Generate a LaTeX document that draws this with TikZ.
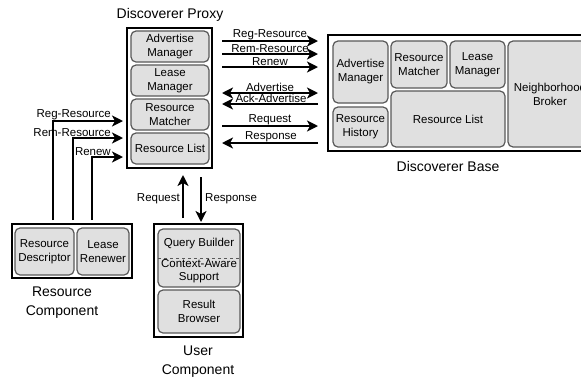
\documentclass[tikz,border=0pt]{standalone}
\usepackage{fontspec}
\setmainfont{Liberation Sans}
\usetikzlibrary{arrows.meta}
\begin{document}
\begin{tikzpicture}[x=1pt,y=-1pt,
  outer/.style={draw=black,line width=1.8pt,fill=white,inner sep=0pt,outer sep=0pt},
  ibox/.style={draw=black!65,line width=1.2pt,fill=black!12,rounded corners=5pt,
    align=center,font=\fontsize{11.5}{14}\selectfont,inner sep=1pt,outer sep=0pt},
  lbl/.style={font=\fontsize{11.5}{14}\selectfont,inner sep=1pt,align=center},
  ttl/.style={font=\fontsize{14}{19}\selectfont,align=center,inner sep=0pt},
  arr/.style={line width=1.8pt,-{Stealth[length=11pt,width=11pt,inset=3pt]}},
  darr/.style={line width=1.8pt,{Stealth[length=11pt,width=11pt,inset=3pt]}-{Stealth[length=11pt,width=11pt,inset=3pt]}}]
\clip (0,0) rectangle (581,381);

% Discoverer Proxy
\node[ttl] (proxyT) at (170,15) {Discoverer Proxy};
\node[outer,minimum width=85,minimum height=140] (proxy) at (169.5,98) {};
\node[ibox,minimum width=78,minimum height=31] (pAdv) at (170,46.5) {Advertise\\Manager};
\node[ibox,minimum width=78,minimum height=31] (pLease) at (170,80.5) {Lease\\Manager};
\node[ibox,minimum width=78,minimum height=31] (pMatch) at (170,114.5) {Resource\\Matcher};
\node[ibox,minimum width=78,minimum height=31] (pList) at (170,148.5) {Resource List};

% Discoverer Base
\node[outer,minimum width=272,minimum height=116] (base) at (464,93) {};
\node[ttl] (baseT) at (448,166) {Discoverer Base};
\node[ibox,minimum width=55,minimum height=62] (bAdv) at (360.5,72) {Advertise\\Manager};
\node[ibox,minimum width=55,minimum height=40] (bHist) at (360.5,127) {Resource\\History};
\node[ibox,minimum width=56,minimum height=47] (bMatch) at (419,64.5) {Resource\\Matcher};
\node[ibox,minimum width=55,minimum height=47] (bLease) at (477.5,64.5) {Lease\\Manager};
\node[ibox,minimum width=114,minimum height=56] (bList) at (448,119) {Resource List};
\node[ibox,minimum width=84,minimum height=106] (bNeigh) at (550,94) {Neighborhood\\Broker};

% Resource Component
\node[outer,minimum width=120,minimum height=54] (rc) at (72,251) {};
\node[ibox,minimum width=59,minimum height=47] (rDesc) at (44.5,251.5) {Resource\\Descriptor};
\node[ibox,minimum width=52,minimum height=47] (rRen) at (103,251.5) {Lease\\Renewer};
\node[ttl] (rcT) at (62,302.5) {Resource\\Component};

% User Component
\node[outer,minimum width=89,minimum height=113] (uc) at (198.5,280.5) {};
\node[ibox,minimum width=82,minimum height=58] (uQuery) at (199,258) {};
\draw[dashed,black!65,line width=1pt] (uQuery.west |- 0,258) -- (uQuery.east |- 0,258);
\node[lbl] (uQB) at (199,243.5) {Query Builder};
\node[lbl,font=\fontsize{11.5}{13}\selectfont] (uCA) at (199,271.5) {Context-Aware\\Support};
\node[ibox,minimum width=82,minimum height=43] (uRes) at (199,311.5) {Result\\Browser};
\node[ttl] (ucT) at (198,362) {User\\Component};

% Proxy -> Base messages
\foreach \yy/\txt in {41/Reg-Resource,54/Rem-Resource,67/Renew,126/Request}{
  \draw[arr,shorten <=10pt,shorten >=10pt] (proxy.east |- 0,\yy) -- (base.west |- 0,\yy);
  \node[lbl,anchor=south] at (270,\yy) {\txt};
}
% Advertise goes both ways
\draw[darr,shorten <=10pt,shorten >=10pt] (proxy.east |- 0,93) -- (base.west |- 0,93);
\node[lbl,anchor=south] (advL) at (270,93) {Advertise};
% Base -> Proxy messages
\foreach \yy/\txt in {104/Ack-Advertise,143/Response}{
  \draw[arr,shorten <=10pt,shorten >=10pt] (base.west |- 0,\yy) -- (proxy.east |- 0,\yy);
  \node[lbl,anchor=south] at (271,\yy) {\txt};
}

% Resource Component -> Proxy
\foreach \xx/\yy/\txt in {53/121/Reg-Resource,73/138/Rem-Resource,92/157/Renew}{
  \draw[arr,shorten <=4pt,shorten >=4pt] (rc.north -| \xx,0) -- (\xx,\yy) -- (proxy.west |- 0,\yy);
  \node[lbl,anchor=south east] at (112,\yy) {\txt};
}

% User Component <-> Proxy
\draw[arr,shorten <=6pt,shorten >=7pt] (uc.north -| 183,0) -- (proxy.south -| 183,0);
\draw[arr,shorten <=9pt,shorten >=2pt] (proxy.south -| 201,0) -- (uc.north -| 201,0);
\node[lbl,anchor=east] (reqL) at (181,199) {Request};
\node[lbl,anchor=west] (resL) at (204,199) {Response};
\end{tikzpicture}
\end{document}
